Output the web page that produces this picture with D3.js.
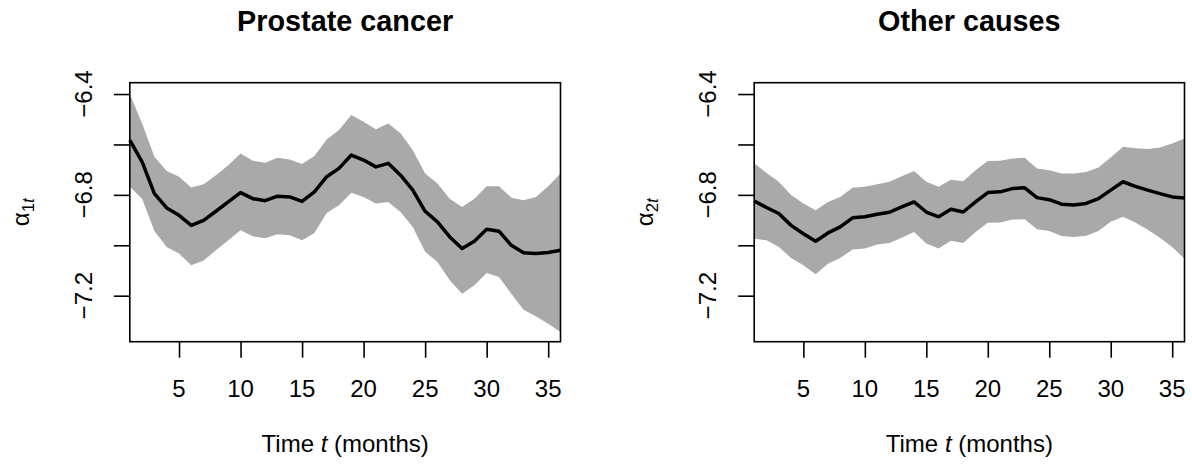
<!DOCTYPE html>
<html lang="en">
<head>
    <meta charset="UTF-8">
    <title>Time-varying baseline effects</title>
    <script src="https://d3js.org/d3.v7.min.js"></script>
    <style>
        body { margin: 0; background: #fff; }
        svg text { font-family: "Liberation Sans", Arial, Helvetica, sans-serif; fill: #000; }
    </style>
</head>
<body>
    <div id="chart"></div>

    <script>
        // Months on the x axis
        const months = [1, 2, 3, 4, 5, 6, 7, 8, 9, 10, 11, 12, 13, 14, 15, 16, 17, 18,
                        19, 20, 21, 22, 23, 24, 25, 26, 27, 28, 29, 30, 31, 32, 33, 34, 35, 36];

        // Prostate cancer: posterior mean and band
        const prostateMean = [-6.583, -6.669, -6.795, -6.852, -6.881, -6.921, -6.901, -6.865, -6.828, -6.791, -6.815, -6.823,
                              -6.805, -6.808, -6.826, -6.788, -6.728, -6.695, -6.642, -6.662, -6.689, -6.675, -6.722, -6.781,
                              -6.865, -6.907, -6.967, -7.013, -6.984, -6.936, -6.944, -7.000, -7.030, -7.033, -7.029, -7.020];
        const prostateUpper = [-6.400, -6.517, -6.649, -6.705, -6.728, -6.771, -6.758, -6.722, -6.682, -6.636, -6.665, -6.673,
                               -6.653, -6.660, -6.678, -6.646, -6.580, -6.543, -6.483, -6.510, -6.540, -6.517, -6.556, -6.623,
                               -6.715, -6.755, -6.815, -6.848, -6.815, -6.766, -6.766, -6.811, -6.821, -6.808, -6.766, -6.715];
        const prostateLower = [-6.768, -6.815, -6.943, -7.007, -7.033, -7.079, -7.060, -7.020, -6.980, -6.940, -6.964, -6.972,
                               -6.956, -6.960, -6.980, -6.951, -6.872, -6.841, -6.792, -6.808, -6.834, -6.828, -6.868, -6.927,
                               -7.026, -7.066, -7.139, -7.192, -7.159, -7.110, -7.126, -7.192, -7.256, -7.282, -7.311, -7.344];

        // Other causes: posterior mean and band
        const otherMean = [-6.824, -6.850, -6.874, -6.921, -6.954, -6.984, -6.951, -6.927, -6.891, -6.887, -6.877, -6.869,
                           -6.848, -6.828, -6.868, -6.887, -6.857, -6.868, -6.828, -6.791, -6.788, -6.775, -6.772, -6.811,
                           -6.819, -6.837, -6.840, -6.834, -6.815, -6.781, -6.748, -6.766, -6.781, -6.795, -6.808, -6.812];
        const otherUpper = [-6.675, -6.713, -6.748, -6.801, -6.834, -6.861, -6.828, -6.808, -6.772, -6.768, -6.758, -6.748,
                            -6.726, -6.705, -6.748, -6.768, -6.740, -6.746, -6.702, -6.666, -6.665, -6.656, -6.653, -6.695,
                            -6.702, -6.715, -6.715, -6.709, -6.691, -6.652, -6.609, -6.615, -6.618, -6.612, -6.596, -6.576];
        const otherLower = [-6.974, -6.980, -7.007, -7.050, -7.079, -7.115, -7.073, -7.050, -7.017, -7.013, -6.997, -6.991,
                            -6.970, -6.947, -6.993, -7.013, -6.982, -6.991, -6.947, -6.911, -6.910, -6.898, -6.897, -6.936,
                            -6.943, -6.963, -6.967, -6.962, -6.943, -6.907, -6.887, -6.910, -6.938, -6.970, -7.007, -7.053];

        // Axis ticks and labels
        const xTicks = [5, 10, 15, 20, 25, 30, 35];
        const yTicks = [-6.4, -6.6, -6.8, -7.0, -7.2];
        const yTickLabels = ["\u22126.4", "", "\u22126.8", "", "\u22127.2"];
        const xDomain = [1, 36];
        const yDomain = [-7.3825, -6.355];

        const panels = [
            {title: "Prostate cancer", sub: "1", mean: prostateMean, upper: prostateUpper, lower: prostateLower, left: 129.8, right: 560.5},
            {title: "Other causes", sub: "2", mean: otherMean, upper: otherUpper, lower: otherLower, left: 754.2, right: 1184.5}
        ];

        const width = 1192, height = 466;
        const plotTop = 82.7, plotBottom = 341.7;
        const tickLen = 16;

        const svg = d3.select("#chart")
                      .append("svg")
                      .attr("width", width)
                      .attr("height", height);

        panels.forEach(p => {
            const xScale = d3.scaleLinear().domain(xDomain).range([p.left, p.right]);
            const yScale = d3.scaleLinear().domain(yDomain).range([plotBottom, plotTop]);
            const cx = (p.left + p.right) / 2;
            const cy = (plotTop + plotBottom) / 2;

            const g = svg.append("g");

            const rows = months.map((m, i) => ({t: m, mean: p.mean[i], lo: p.lower[i], hi: p.upper[i]}));

            // Credible band
            g.append("path")
             .datum(rows)
             .attr("fill", "#a9a9a9")
             .attr("d", d3.area().x(d => xScale(d.t)).y0(d => yScale(d.lo)).y1(d => yScale(d.hi)));

            // Mean line
            g.append("path")
             .datum(rows)
             .attr("fill", "none")
             .attr("stroke", "#000")
             .attr("stroke-width", 3.5)
             .attr("stroke-linejoin", "round")
             .attr("d", d3.line().x(d => xScale(d.t)).y(d => yScale(d.mean)));

            // Box
            g.append("rect")
             .attr("x", p.left).attr("y", plotTop)
             .attr("width", p.right - p.left).attr("height", plotBottom - plotTop)
             .attr("fill", "none").attr("stroke", "#000").attr("stroke-width", 1.6);

            // X axis ticks
            const xAxis = g.append("g")
             .attr("transform", `translate(0,${plotBottom})`)
             .call(d3.axisBottom(xScale).tickValues(xTicks).tickSize(tickLen).tickSizeOuter(0).tickFormat(""));
            xAxis.select(".domain").remove();
            xAxis.selectAll("line").attr("stroke-width", 1.6);

            g.selectAll(".xlab")
             .data(xTicks)
             .enter()
             .append("text")
             .attr("x", d => xScale(d))
             .attr("y", 397)
             .attr("text-anchor", "middle")
             .style("font-size", "24px")
             .text(d => d);

            // Y axis ticks
            const yAxis = g.append("g")
             .attr("transform", `translate(${p.left},0)`)
             .call(d3.axisLeft(yScale).tickValues(yTicks).tickSize(tickLen).tickSizeOuter(0).tickFormat(""));
            yAxis.select(".domain").remove();
            yAxis.selectAll("line").attr("stroke-width", 1.6);

            g.selectAll(".ylab")
             .data(yTicks)
             .enter()
             .append("text")
             .attr("transform", d => `translate(${p.left - 38},${yScale(d)}) rotate(-90)`)
             .attr("text-anchor", "middle")
             .style("font-size", "24px")
             .text((d, i) => yTickLabels[i]);

            // Title
            g.append("text")
             .attr("x", cx).attr("y", 31)
             .attr("text-anchor", "middle")
             .style("font-size", "28.8px")
             .style("font-weight", "bold")
             .text(p.title);

            // X axis label
            const xl = g.append("text")
             .attr("x", cx).attr("y", 452)
             .attr("text-anchor", "middle")
             .style("font-size", "24px");
            xl.append("tspan").text("Time ");
            xl.append("tspan").style("font-style", "italic").text("t");
            xl.append("tspan").text(" (months)");

            // Y axis label
            const yl = g.append("text")
             .attr("transform", `translate(${p.left - 101},${cy}) rotate(-90)`)
             .attr("text-anchor", "middle")
             .style("font-size", "24px");
            yl.append("tspan").text("\u03b1");
            yl.append("tspan").attr("dy", 5).style("font-size", "17px").text(p.sub);
            yl.append("tspan").style("font-size", "17px").style("font-style", "italic").text("t");
        });
    </script>
</body>
</html>
